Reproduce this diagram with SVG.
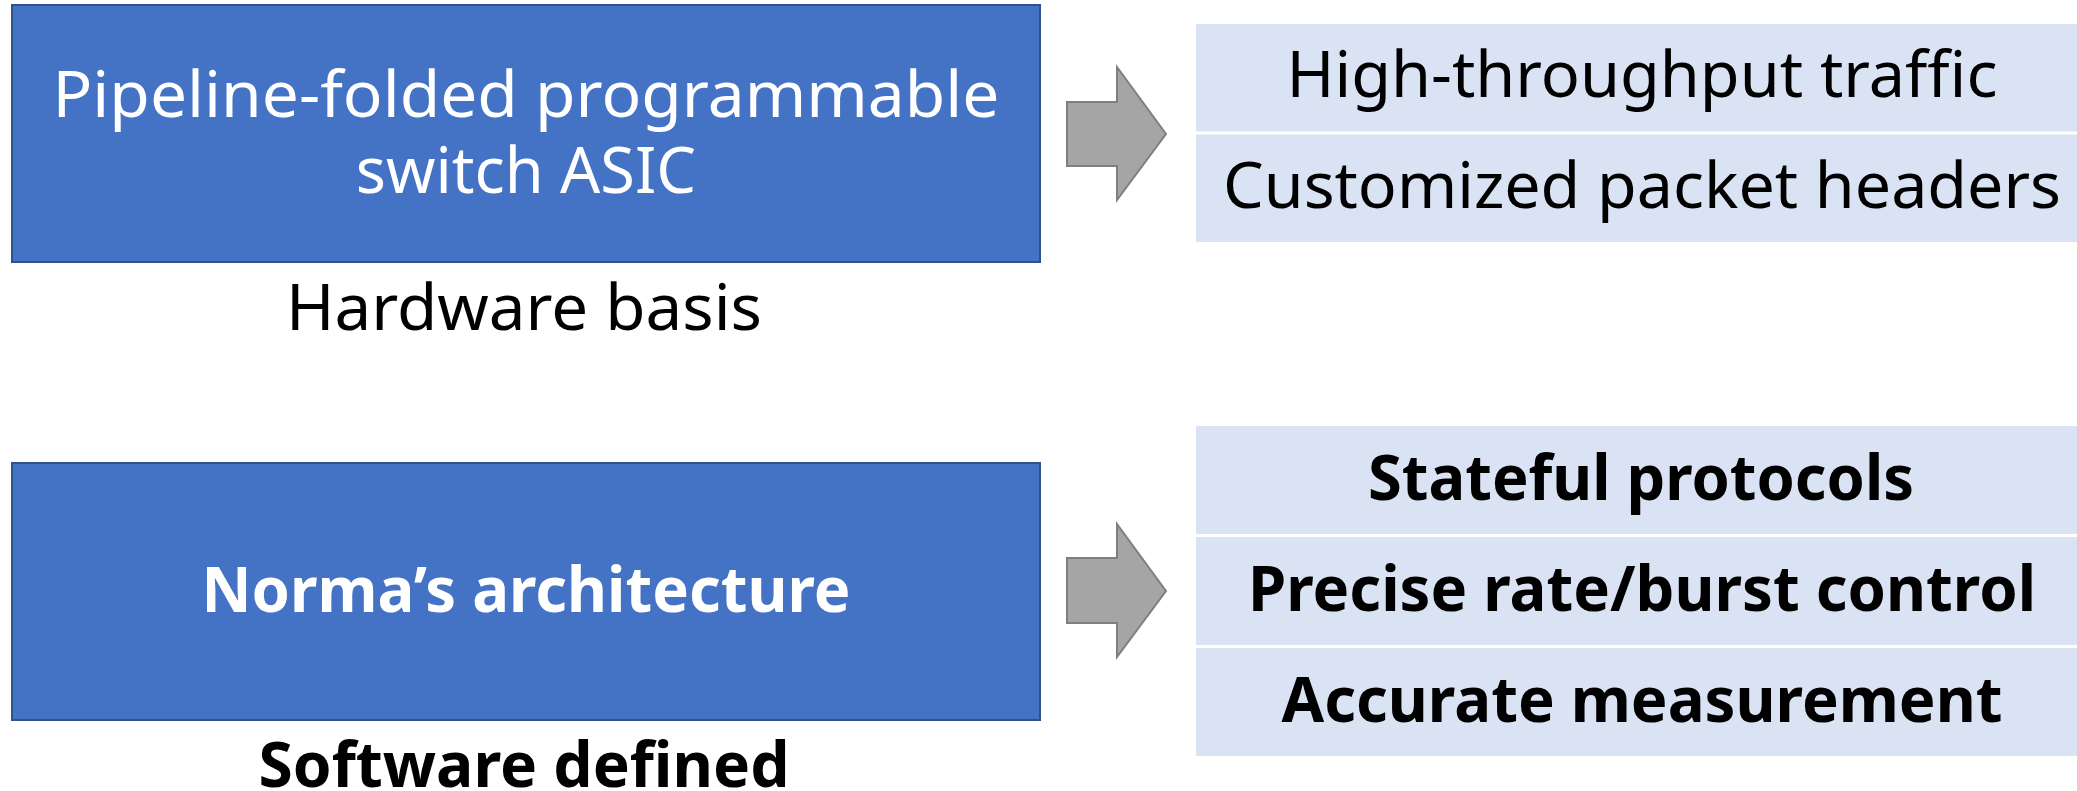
<svg xmlns="http://www.w3.org/2000/svg" width="2077" height="791" viewBox="0 0 2077 791">
<style>
.blue{fill:#4472C4;stroke:#2F528F;stroke-width:2}
.light{fill:#DAE3F3}
.div{stroke:#FFFFFF;stroke-width:3}
.arrow{fill:#A5A5A5;stroke:#7F7F7F;stroke-width:2;stroke-linejoin:miter}
text{font-family:"Noto Sans","Open Sans","DejaVu Sans",sans-serif;font-size:63px;text-anchor:middle}
.w{fill:#FFFFFF}
.k{fill:#000000}
.b{font-weight:bold}
</style>
<rect width="2077" height="791" fill="#FFFFFF"/>
<g id="hardware-node">
<rect class="blue" x="12" y="5" width="1028" height="257"/>
<text class="w" x="526" y="117" textLength="947" lengthAdjust="spacingAndGlyphs">Pipeline-folded programmable</text>
<text class="w" x="526" y="193">switch ASIC</text>
<text class="k" x="524" y="330" textLength="476" lengthAdjust="spacingAndGlyphs">Hardware basis</text>
</g>
<g id="hardware-results">
<rect class="light" x="1196" y="24" width="881" height="218"/>
<line class="div" x1="1196" y1="133" x2="2077" y2="133"/>
<text class="k" x="1642" y="97" textLength="711" lengthAdjust="spacingAndGlyphs">High-throughput traffic</text>
<text class="k" x="1642" y="208" textLength="838" lengthAdjust="spacingAndGlyphs">Customized packet headers</text>
</g>
<g id="software-node">
<rect class="blue" x="12" y="463" width="1028" height="257"/>
<text class="w b" x="526" y="612" textLength="649" lengthAdjust="spacingAndGlyphs">Norma’s architecture</text>
<text class="k b" x="524" y="787" textLength="531" lengthAdjust="spacingAndGlyphs">Software defined</text>
</g>
<g id="software-results">
<rect class="light" x="1196" y="426" width="881" height="330"/>
<line class="div" x1="1196" y1="535.5" x2="2077" y2="535.5"/>
<line class="div" x1="1196" y1="646.5" x2="2077" y2="646.5"/>
<text class="k b" x="1641" y="500" textLength="546" lengthAdjust="spacingAndGlyphs">Stateful protocols</text>
<text class="k b" x="1642" y="611" textLength="788" lengthAdjust="spacingAndGlyphs">Precise rate/burst control</text>
<text class="k b" x="1642" y="722" textLength="721" lengthAdjust="spacingAndGlyphs">Accurate measurement</text>
</g>
<g id="connectors">
<polygon class="arrow" points="1067,102 1117,102 1117,67 1166,134 1117,200 1117,166 1067,166"/>
<polygon class="arrow" points="1067,558 1117,558 1117,524 1166,591 1117,657 1117,623 1067,623"/>
</g>
</svg>
